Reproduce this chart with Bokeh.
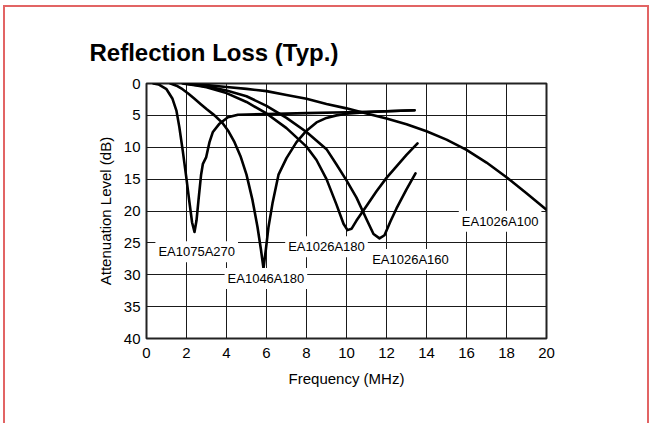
from bokeh.plotting import figure
from bokeh.models import Range1d, FixedTicker, Label
from bokeh.embed import file_html
from bokeh.resources import INLINE

# ---- data (frequency MHz, attenuation dB) ----
freq_a270 = [0.35, 0.6, 1.0, 1.3, 1.5, 1.64, 1.81, 1.98, 2.15, 2.28, 2.4, 2.5, 2.6, 2.73, 2.82,
             2.98, 3.15, 3.32, 3.65, 4.07, 4.57, 6.0, 8.0, 10.0, 12.0, 13.4]
att_a270 = [0.0, 0.15, 0.9, 2.4, 4.3, 6.8, 10.5, 14.5, 18.7, 21.8, 23.3, 21.5, 18.3, 14.3, 12.6,
            11.6, 9.2, 7.6, 6.3, 5.3, 4.9, 4.8, 4.65, 4.5, 4.35, 4.2]

freq_46a180 = [1.2, 1.5, 1.8, 2.1, 2.4, 2.7, 3.0, 3.4, 3.8, 4.1, 4.4, 4.7, 5.0, 5.3, 5.55, 5.72,
               5.85, 5.97, 6.1, 6.3, 6.6, 7.0, 7.5, 8.0, 8.5, 9.0, 9.5, 10.0, 11.0, 12.0, 13.4]
att_46a180 = [0.0, 0.35, 0.9, 1.6, 2.4, 3.2, 4.0, 5.0, 6.2, 7.5, 9.2, 11.4, 14.3, 18.3, 22.5, 26.0,
              29.0, 26.0, 22.5, 18.8, 14.3, 11.7, 9.2, 7.4, 6.1, 5.4, 5.0, 4.75, 4.5, 4.35, 4.2]

freq_26a180 = [1.8, 2.5, 3.0, 4.0, 5.0, 6.0, 7.0, 8.0, 8.5, 9.0, 9.5, 9.85, 10.05, 10.25, 10.5,
               11.0, 11.5, 12.0, 12.5, 13.0, 13.55]
att_26a180 = [0.0, 0.3, 0.6, 1.5, 2.9, 4.7, 7.0, 9.9, 12.0, 15.0, 19.0, 22.0, 23.0, 22.8, 21.5,
              19.2, 16.9, 14.8, 13.0, 11.2, 9.4]

freq_26a160 = [1.9, 3.0, 4.0, 5.0, 6.0, 7.0, 8.0, 9.0, 9.5, 10.0, 10.5, 11.0, 11.35, 11.65, 11.9,
               12.2, 12.5, 13.0, 13.45]
att_26a160 = [0.0, 0.45, 1.1, 2.0, 3.5, 5.4, 7.6, 10.3, 12.7, 15.2, 17.9, 21.3, 23.6, 24.3, 23.8,
              21.6, 19.6, 16.6, 14.1]

freq_26a100 = [2.0, 3, 4, 5, 6, 7, 8, 9, 10, 11, 12, 13, 14, 15, 16, 17, 18, 19, 20]
att_26a100 = [0.0, 0.25, 0.55, 0.85, 1.2, 1.8, 2.4, 3.2, 3.9, 4.7, 5.5, 6.4, 7.5, 8.8, 10.4,
              12.4, 14.7, 17.2, 19.8]

series = [
    (freq_a270, att_a270),
    (freq_46a180, att_46a180),
    (freq_26a180, att_26a180),
    (freq_26a160, att_26a160),
    (freq_26a100, att_26a100),
]

x_ticks = [0, 2, 4, 6, 8, 10, 12, 14, 16, 18, 20]
y_ticks = [0, 5, 10, 15, 20, 25, 30, 35, 40]

label_names = ["EA1075A270", "EA1046A180", "EA1026A180", "EA1026A160", "EA1026A100"]
label_x = [2.51, 5.97, 9.0, 13.2, 17.68]
label_y = [26.4, 30.6, 25.6, 27.6, 21.6]

FONT = "Liberation Sans"

p = figure(width=646, height=418, output_backend="svg", toolbar_location=None,
           x_range=Range1d(0, 20), y_range=Range1d(40, 0),
           min_border_left=141, min_border_right=105, min_border_top=76, min_border_bottom=87)
p.styles = {"margin-left": "3px", "margin-top": "5px",
            "border-top": "2px solid #e26464", "border-left": "2px solid #e26464",
            "border-right": "2px solid #e26464"}

p.background_fill_color = "white"
p.border_fill_color = "white"
p.outline_line_color = "#222222"
p.outline_line_width = 2

p.title.text = "Reflection Loss (Typ.)"
p.title.text_font = FONT
p.title.text_font_size = "24px"
p.title.text_font_style = "bold"
p.title.text_color = "black"
p.title.align = "left"
p.title.offset = -57
p.title.standoff = 36

p.xaxis.ticker = FixedTicker(ticks=x_ticks)
p.yaxis.ticker = FixedTicker(ticks=y_ticks)
p.grid.grid_line_color = "#1a1a1a"
p.grid.grid_line_width = 1
p.grid.grid_line_alpha = 1.0

for ax in (p.xaxis, p.yaxis):
    ax.axis_line_color = None
    ax.major_tick_line_color = None
    ax.minor_tick_line_color = None
    ax.major_tick_in = 0
    ax.major_tick_out = 0
    ax.major_label_text_font = FONT
    ax.major_label_text_font_size = "15px"
    ax.major_label_text_color = "black"
    ax.axis_label_text_font = FONT
    ax.axis_label_text_font_size = "15px"
    ax.axis_label_text_font_style = "normal"
    ax.axis_label_text_color = "black"

p.xaxis.axis_label = "Frequency (MHz)"
p.yaxis.axis_label = "Attenuation Level (dB)"
p.xaxis.major_label_standoff = 9
p.xaxis.axis_label_standoff = 9
p.yaxis.major_label_standoff = 6
p.yaxis.axis_label_standoff = 7

for fx, fy in series:
    p.line(fx, fy, line_color="black", line_width=2.6, line_join="round", line_cap="round")

for name, lx, ly in zip(label_names, label_x, label_y):
    p.add_layout(Label(x=lx, y=ly, text=name, text_align="center", text_baseline="middle",
                       text_font=FONT, text_font_size="13px", text_color="black",
                       background_fill_color="white", padding=3))

open("out.html", "w").write(file_html(p, INLINE))
